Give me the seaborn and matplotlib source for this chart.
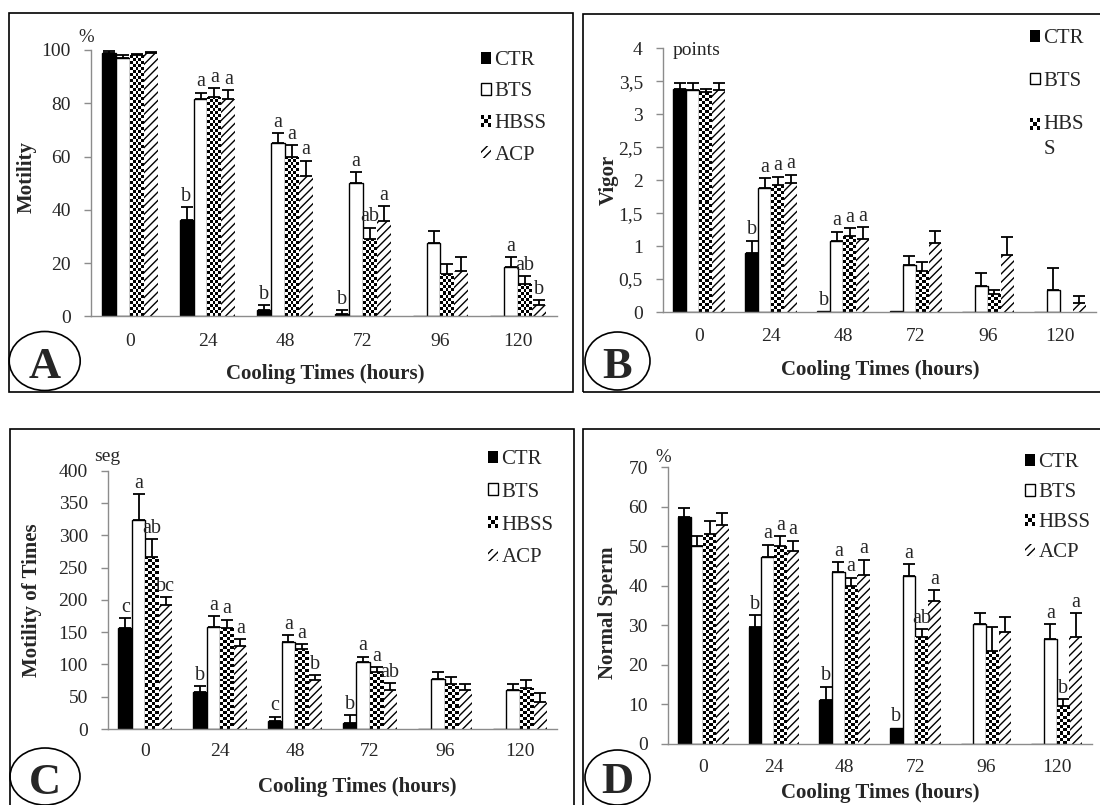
import numpy as np
import pandas as pd
import matplotlib
matplotlib.use("Agg")
import matplotlib.pyplot as plt
import seaborn as sns
from matplotlib.patches import Rectangle, Ellipse, Patch
from matplotlib.legend_handler import HandlerPatch
from matplotlib.ticker import FuncFormatter

# ---------------- data ----------------
times = ["0", "24", "48", "72", "96", "120"]
groups = ["CTR", "BTS", "HBSS", "ACP"]

# Panel A - Motility (%)
motility_ctr = [99, 36, 2.3, 1.0, 0, 0]
motility_bts = [97, 81.5, 65, 50, 27.5, 18.5]
motility_hbss = [98, 82.5, 60, 29, 16, 12.3]
motility_acp = [98.8, 81.5, 52.5, 35.7, 17, 4.1]
motility_ctr_err = [0.5, 5, 1.8, 1.3, 0, 0]
motility_bts_err = [1.0, 2.5, 3.8, 4.2, 4.6, 3.6]
motility_hbss_err = [0.6, 3.2, 4.2, 4.2, 3.7, 2.8]
motility_acp_err = [0.4, 3.5, 6.0, 5.7, 5.3, 1.9]
motility_let_ctr = ["", "b", "b", "b", "", ""]
motility_let_bts = ["", "a", "a", "a", "", "a"]
motility_let_hbss = ["", "a", "a", "ab", "", "ab"]
motility_let_acp = ["", "a", "a", "a", "", "b"]

# Panel B - Vigor (points)
vigor_ctr = [3.38, 0.9, 0.01, 0.01, 0.005, 0]
vigor_bts = [3.36, 1.88, 1.08, 0.71, 0.39, 0.33]
vigor_hbss = [3.33, 1.92, 1.15, 0.62, 0.27, 0]
vigor_acp = [3.37, 1.95, 1.11, 1.04, 0.87, 0.13]
vigor_ctr_err = [0.1, 0.18, 0, 0, 0, 0]
vigor_bts_err = [0.12, 0.15, 0.14, 0.14, 0.2, 0.33]
vigor_hbss_err = [0.05, 0.13, 0.12, 0.14, 0.07, 0]
vigor_acp_err = [0.1, 0.13, 0.18, 0.19, 0.27, 0.12]
vigor_let_ctr = ["", "b", "b", "", "", ""]
vigor_let_bts = ["", "a", "a", "", "", ""]
vigor_let_hbss = ["", "a", "a", "", "", ""]
vigor_let_acp = ["", "a", "a", "", "", ""]

# Panel C - Motility of Times (seg)
mtime_ctr = [157, 57, 12, 9, 0, 0]
mtime_bts = [323, 158, 134, 104, 78, 60]
mtime_hbss = [267, 156, 124, 89, 70, 64]
mtime_acp = [192, 128, 76, 60, 60, 42]
mtime_ctr_err = [15, 9, 7, 12, 0, 0]
mtime_bts_err = [41, 17, 11, 8, 10, 10]
mtime_hbss_err = [27, 13, 7, 7, 10, 12]
mtime_acp_err = [12, 11, 7, 11, 9, 13]
mtime_let_ctr = ["c", "b", "c", "b", "", ""]
mtime_let_bts = ["a", "a", "a", "a", "", ""]
mtime_let_hbss = ["ab", "a", "a", "a", "", ""]
mtime_let_acp = ["bc", "a", "b", "ab", "", ""]

# Panel D - Normal Sperm (%)
normal_ctr = [57.5, 29.5, 11, 4, 0, 0]
normal_bts = [50, 47.3, 43.4, 42.4, 30.2, 26.5]
normal_hbss = [53, 50, 40, 27, 23.4, 9.5]
normal_acp = [55.4, 48.7, 42.8, 36, 28.2, 27]
normal_ctr_err = [2.1, 3, 3.4, 0, 0, 0]
normal_bts_err = [2.5, 3.1, 2.6, 3.1, 2.9, 3.7]
normal_hbss_err = [3.4, 2.5, 2.0, 2.0, 6.1, 1.7]
normal_acp_err = [3.0, 2.7, 3.8, 2.8, 3.8, 6.1]
normal_let_ctr = ["", "b", "b", "b", "", ""]
normal_let_bts = ["", "a", "a", "a", "", "a"]
normal_let_hbss = ["", "a", "a", "ab", "", "b"]
normal_let_acp = ["", "a", "a", "a", "", "a"]

# ---------------- style ----------------
sns.set_style("white")
plt.rcParams["font.family"] = ["Liberation Serif", "DejaVu Serif"]
plt.rcParams["hatch.linewidth"] = 1.0

W, H = 1100, 805
fig = plt.figure(figsize=(11, 8.05), dpi=100)
GRAY = "#8c8c8c"
TICK_FS = 14
LET_FS = 14.5
LAB_FS = 15
LEG_FS = 15


def fx(px):
    return px / W


def fy(py):
    return 1 - py / H


def make_axes(left, right, top, bottom):
    return fig.add_axes([fx(left), fy(bottom), (right - left) / W, (bottom - top) / H])


class CheckerHandler(HandlerPatch):
    def __init__(self, dy=0.0, **kw):
        super().__init__(**kw)
        self.dy = dy

    def create_artists(self, legend, orig_handle, xdescent, ydescent, width, height, fontsize, trans):
        arts = []
        n = 3
        cw, ch = width / n, height / n
        for i in range(n):
            for j in range(n):
                if (i + j) % 2 == 0:
                    arts.append(Rectangle((-xdescent + i * cw, -ydescent + j * ch + self.dy), cw, ch,
                                          facecolor="black", edgecolor="none", transform=trans))
        return arts


def draw_panel(ax, values, errs, letters, ymax, yticks, comma=False, xpad=11, ypad=9.5):
    rows = []
    for g, vals in zip(groups, values):
        for t, v in zip(times, vals):
            rows.append({"time": t, "group": g, "value": v})
    df = pd.DataFrame(rows)
    sns.barplot(data=df, x="time", y="value", hue="group", order=times, hue_order=groups,
                palette=dict(zip(groups, ["black", "white", "white", "white"])),
                width=0.72, gap=0, errorbar=None, legend=False, saturation=1,
                edgecolor="black", linewidth=1.0, ax=ax)
    ax.set_xlim(-0.5, 5.5)
    ax.set_ylim(0, ymax)

    for ci, cont in enumerate(ax.containers):
        for bar in cont:
            if ci == 0:
                bar.set_facecolor("black"); bar.set_edgecolor("black"); bar.set_linewidth(1.0)
            elif ci == 1:
                bar.set_facecolor("white"); bar.set_edgecolor("black"); bar.set_linewidth(1.0)
            elif ci == 2:
                bar.set_facecolor("white"); bar.set_edgecolor("black"); bar.set_linewidth(0)
            else:
                bar.set_facecolor("white"); bar.set_edgecolor("black"); bar.set_linewidth(0)
                bar.set_hatch("////")

    # checkerboard texture for HBSS bars
    cell = 3.0
    for bar in ax.containers[2]:
        h = bar.get_height()
        if h <= 0:
            continue
        x0, w = bar.get_x(), bar.get_width()
        p0 = ax.transData.transform((x0, 0))
        p1 = ax.transData.transform((x0 + w, h))
        nx = max(1, int(round((p1[0] - p0[0]) / cell)))
        ny = max(1, int(round((p1[1] - p0[1]) / cell)))
        arr = (np.add.outer(np.arange(ny), np.arange(nx)) % 2).astype(float)
        im = ax.imshow(arr, cmap="gray", vmin=0, vmax=1, origin="lower",
                       extent=(x0, x0 + w, 0, h), aspect="auto",
                       interpolation="nearest", zorder=bar.get_zorder() + 0.1)
        im.set_clip_path(bar)
    ax.set_xlim(-0.5, 5.5)
    ax.set_ylim(0, ymax)
    ax.set_aspect("auto")

    for ci in range(4):
        for bar, e, lab in zip(ax.containers[ci], errs[ci], letters[ci]):
            xc = bar.get_x() + bar.get_width() / 2
            top = bar.get_height()
            if e > 0:
                ax.errorbar([xc], [top], yerr=[[0], [e]], fmt="none", ecolor="black",
                            elinewidth=1.3, capsize=4.5, capthick=1.3, zorder=4)
            if lab:
                ax.annotate(lab, (xc, top + e), xytext=(0, 1.0), textcoords="offset points",
                            ha="center", va="bottom", fontsize=LET_FS, zorder=5,
                            annotation_clip=False)

    ax.set_xticks(range(len(times)))
    ax.set_xticklabels(times)
    ax.set_xticks(np.arange(-0.5, len(times), 1.0), minor=True)
    ax.tick_params(axis="x", which="major", length=0, pad=xpad, labelsize=TICK_FS)
    ax.tick_params(axis="x", which="minor", length=6, width=1, color=GRAY, direction="out")
    ax.set_yticks(yticks)
    if comma:
        ax.yaxis.set_major_formatter(FuncFormatter(lambda v, _: f"{v:g}".replace(".", ",")))
    ax.tick_params(axis="y", which="major", length=5, width=1, color=GRAY, direction="out",
                   pad=ypad, labelsize=TICK_FS, left=True)
    sns.despine(ax=ax)
    for s in ["left", "bottom"]:
        ax.spines[s].set_color(GRAY)
        ax.spines[s].set_linewidth(1.0)
    ax.set_xlabel("")
    ax.set_ylabel("")


def legend_handles():
    return [Patch(facecolor="black", edgecolor="black", lw=0),
            Patch(facecolor="white", edgecolor="black", lw=1.0),
            Patch(facecolor="white", edgecolor="black", lw=0),
            Patch(facecolor="white", edgecolor="black", hatch="////", lw=0)]


def add_legend(ax, labels, left, top, spacing, linespacing=1.2, checker_dy=0.0):
    hs = legend_handles()[:len(labels)]
    leg = ax.legend(hs, labels, loc="upper left", bbox_to_anchor=(fx(left), fy(top)),
                    bbox_transform=fig.transFigure, frameon=False, fontsize=LEG_FS,
                    handlelength=0.5, handleheight=0.5, handletextpad=0.15,
                    borderpad=0, borderaxespad=0, labelspacing=spacing,
                    handler_map={hs[2]: CheckerHandler(dy=checker_dy)} if len(hs) > 2 else None)
    for t in leg.get_texts():
        t.set_linespacing(linespacing)
    return leg


# ---------------- panels ----------------
axA = make_axes(91, 557, 50, 316.3)
draw_panel(axA, [motility_ctr, motility_bts, motility_hbss, motility_acp],
           [motility_ctr_err, motility_bts_err, motility_hbss_err, motility_acp_err],
           [motility_let_ctr, motility_let_bts, motility_let_hbss, motility_let_acp],
           100, [0, 20, 40, 60, 80, 100], xpad=12)
add_legend(axA, groups, 481, 51, 0.60)

axB = make_axes(663, 1096, 48.3, 312)
draw_panel(axB, [vigor_ctr, vigor_bts, vigor_hbss, vigor_acp],
           [vigor_ctr_err, vigor_bts_err, vigor_hbss_err, vigor_acp_err],
           [vigor_let_ctr, vigor_let_bts, vigor_let_hbss, vigor_let_acp],
           4, [0, 0.5, 1, 1.5, 2, 2.5, 3, 3.5, 4], comma=True, xpad=11.5)
add_legend(axB, ["CTR", "BTS", "HBS\nS"], 1030, 29, 1.15, linespacing=1.4, checker_dy=9.0)

axC = make_axes(108, 557, 470.7, 729)
draw_panel(axC, [mtime_ctr, mtime_bts, mtime_hbss, mtime_acp],
           [mtime_ctr_err, mtime_bts_err, mtime_hbss_err, mtime_acp_err],
           [mtime_let_ctr, mtime_let_bts, mtime_let_hbss, mtime_let_acp],
           400, [0, 50, 100, 150, 200, 250, 300, 350, 400], xpad=10)
add_legend(axC, groups, 488, 450, 0.66)

axD = make_axes(668, 1092, 467.3, 743.5)
draw_panel(axD, [normal_ctr, normal_bts, normal_hbss, normal_acp],
           [normal_ctr_err, normal_bts_err, normal_hbss_err, normal_acp_err],
           [normal_let_ctr, normal_let_bts, normal_let_hbss, normal_let_acp],
           70, [0, 10, 20, 30, 40, 50, 60, 70], xpad=11)
add_legend(axD, groups, 1025, 453, 0.53)

# ---------------- axis titles / units ----------------
for (x, y, s) in [(325, 374, "Cooling Times (hours)"), (880, 369.5, "Cooling Times (hours)"),
                  (357, 786.5, "Cooling Times (hours)"), (880, 793, "Cooling Times (hours)")]:
    fig.text(fx(x), fy(y), s, ha="center", va="center", fontsize=LAB_FS, fontweight="bold")
for (x, y, s) in [(27, 177, "Motility"), (609, 180, "Vigor"),
                  (32, 600, "Motility of Times"), (608, 613, "Normal Sperm")]:
    fig.text(fx(x), fy(y), s, ha="center", va="center", rotation=90,
             fontsize=LAB_FS, fontweight="bold")
fig.text(fx(86), fy(38), "%", ha="center", va="center", fontsize=13.5)
fig.text(fx(673), fy(50.5), "points", ha="left", va="center", fontsize=14)
fig.text(fx(107), fy(456), "seg", ha="center", va="center", fontsize=14)
fig.text(fx(663), fy(457), "%", ha="center", va="center", fontsize=13.5)

# ---------------- panel frames and letters ----------------
for (x0, y0, x1, y1) in [(9, 13, 573, 392), (583, 14, 1110, 392),
                         (10, 429, 574, 815), (583, 429, 1110, 815)]:
    fig.patches.append(Rectangle((fx(x0), fy(y1)), (x1 - x0) / W, (y1 - y0) / H,
                                 transform=fig.transFigure, fill=False,
                                 edgecolor="black", lw=1.2))
for (cx, cy, w, h, base, letter) in [(44.7, 361, 71, 59, 378, "A"), (617.5, 361, 65, 58, 378, "B"),
                                     (45, 776.5, 70, 57, 794, "C"), (617.5, 777.5, 65, 55, 793, "D")]:
    fig.patches.append(Ellipse((fx(cx), fy(cy)), w / W, h / H, transform=fig.transFigure,
                               fill=False, edgecolor="black", lw=1.2))
    fig.text(fx(cx), fy(base), letter, ha="center", va="baseline", fontsize=32,
             fontweight="bold")

fig.savefig("out.png", dpi=100)
